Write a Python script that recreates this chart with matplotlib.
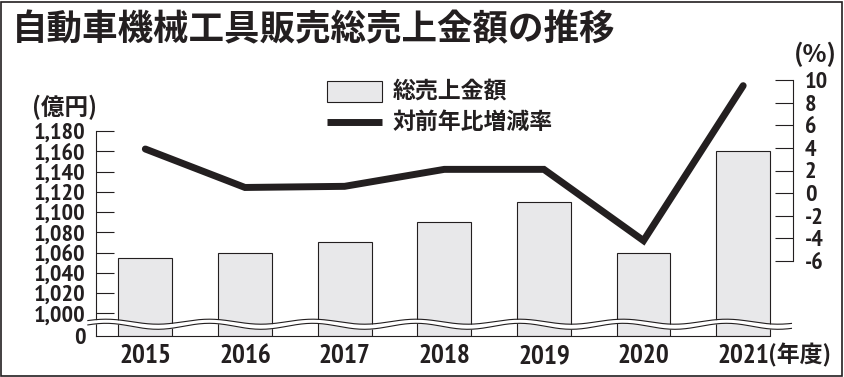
import numpy as np
import matplotlib
matplotlib.use('Agg')
import matplotlib.pyplot as plt
from matplotlib import font_manager as fm
from matplotlib.font_manager import FontProperties
from matplotlib.patches import Rectangle
from matplotlib.lines import Line2D
import matplotlib.transforms as mtrans

# ---- data ----
years = ['2015', '2016', '2017', '2018', '2019', '2020', '2021']
sales = [1055, 1060, 1070, 1090, 1110, 1060, 1160]          # 億円
growth = [3.9, 0.5, 0.6, 2.1, 2.1, -4.2, 9.5]               # %
left_ticks = [0, 1000, 1020, 1040, 1060, 1080, 1100, 1120, 1140, 1160, 1180]
left_labels = ['0', '1,000', '1,020', '1,040', '1,060', '1,080', '1,100',
               '1,120', '1,140', '1,160', '1,180']
right_ticks = [-6, -4, -2, 0, 2, 4, 6, 8, 10]
right_labels = ['-6', '-4', '-2', '0', '2', '4', '6', '8', '10']
title = '自動車機械工具販売総売上金額の推移'
legend_bar = '総売上金額'
legend_line = '対前年比増減率'

# ---- fonts ----
CJK = 'Noto Sans CJK JP'
plt.rcParams['font.family'] = [CJK, 'DejaVu Sans']
INK = '#231f20'
BARC = '#e8e8ea'


def _wt(f):
    w = f.weight
    if isinstance(w, str):
        w = {'bold': 700, 'heavy': 800, 'black': 900, 'semibold': 600,
             'demibold': 600, 'normal': 400, 'regular': 400}.get(w.lower(), 400)
    return w


def pick_num_font():
    cands = []
    for f in fm.fontManager.ttflist:
        n = f.name
        st = str(f.stretch)
        cond = ('Narrow' in n or 'Condensed' in n or
                st in ('condensed', 'semi-condensed', 'extra-condensed',
                       'ultra-condensed') or
                (isinstance(f.stretch, (int, float)) and f.stretch < 500))
        if not cond or 'Mono' in n or 'Serif' in n or 'CJK' in n:
            continue
        if 'italic' in str(f.style).lower() or 'oblique' in str(f.style).lower():
            continue
        score = abs(_wt(f) - 750)
        pref = 0 if 'Narrow' in n else 1
        cands.append((pref, score, f.fname))
    if cands:
        cands.sort()
        return FontProperties(fname=cands[0][2]), True
    return FontProperties(family='Liberation Sans', weight='bold'), False


NUMFP, NARROW = pick_num_font()

W, H = 845, 377
fig = plt.figure(figsize=(W / 100, H / 100), dpi=100)
renderer = fig.canvas.get_renderer()


def fit_size(s, target_w, max_size):
    fp = NUMFP.copy()
    fp.set_size(10)
    t = fig.text(0, 0, s, fontproperties=fp)
    w = t.get_window_extent(renderer).width
    t.remove()
    return min(max_size, 10 * target_w / w)


def fx(px):
    return px / W


def fy(py):
    return 1 - py / H


L, R = 96.5, 793
TOP_L, BOT = 131, 336
ax = fig.add_axes([fx(L), fy(BOT), (R - L) / W, (BOT - TOP_L) / H])

# broken axis scale: 0..1000 squeezed, 1000.. linear
BRK, OFF = 1000.0, 22.4


def fwd(v):
    v = np.asarray(v, float)
    return np.where(v >= BRK, v - BRK + OFF, v * OFF / BRK)


def inv(y):
    y = np.asarray(y, float)
    return np.where(y >= OFF, y + BRK - OFF, y * BRK / OFF)


ax.set_yscale('function', functions=(fwd, inv))
ax.set_ylim(0, 1180)
ax.set_xlim(-0.49, 6.5)
x = np.arange(len(years))
ax.bar(x, sales, width=0.54, color=BARC, edgecolor=INK, linewidth=0.8, zorder=2)

for s in ['top', 'right']:
    ax.spines[s].set_visible(False)
for s in ['left', 'bottom']:
    ax.spines[s].set_linewidth(0.8)
    ax.spines[s].set_color(INK)
ax.spines['bottom'].set_bounds(-0.49, 6.27)

ysz = fit_size('1,180', 76, 17.5)
xsz = fit_size('2015', 56, 19.5)
rsz = fit_size('10', 27, 17.5)

ax.set_yticks(left_ticks, left_labels)
ax.tick_params(axis='y', direction='in', length=13, width=0.8, color=INK, pad=8,
               labelcolor=INK)
ax.yaxis.get_major_ticks()[0].tick1line.set_visible(False)
ax.set_xticks(x, years)
ax.tick_params(axis='x', length=0, pad=6, labelcolor=INK)
for lab in ax.get_yticklabels():
    fp = NUMFP.copy(); fp.set_size(ysz)
    if not NARROW:
        fp.set_weight('bold')
    lab.set_fontproperties(fp)
for lab in ax.get_xticklabels():
    fp = NUMFP.copy(); fp.set_size(xsz)
    if not NARROW:
        fp.set_weight('bold')
    lab.set_fontproperties(fp)

# wavy break band
bt = mtrans.blended_transform_factory(ax.transData, ax.transAxes)
wx = np.linspace((88 - 145.5) / 99.7, (792 - 145.5) / 99.7, 400)
ph = np.cos(2 * np.pi * (wx - 1.68) / 1.038)
yu = 0.0698 + 0.0122 * ph
yl = 0.0473 + 0.0146 * ph
ax.fill_between(wx, yl, yu, color='white', transform=bt, zorder=3, clip_on=False, lw=0)
ax.plot(wx, yu, color=INK, lw=0.8, transform=bt, zorder=3.1, clip_on=False)
ax.plot(wx, yl, color=INK, lw=0.8, transform=bt, zorder=3.1, clip_on=False)

# right axis
TOP_R, BOT_R = 80, 261
ax2 = fig.add_axes([fx(L), fy(BOT_R), (R - L) / W, (BOT_R - TOP_R) / H])
ax2.set_facecolor('none')
ax2.set_xlim(-0.49, 6.5)
ax2.set_ylim(-6, 10)
for s in ['top', 'left', 'bottom']:
    ax2.spines[s].set_visible(False)
ax2.spines['right'].set_linewidth(0.8)
ax2.spines['right'].set_color(INK)
ax2.set_xticks([])
ax2.yaxis.tick_right()
ax2.set_yticks(right_ticks, right_labels)
ax2.tick_params(axis='y', direction='in', length=13, width=0.8, color=INK, pad=8.5,
                labelcolor=INK)
for lab in ax2.get_yticklabels():
    fp = NUMFP.copy(); fp.set_size(rsz)
    if not NARROW:
        fp.set_weight('bold')
    lab.set_fontproperties(fp)
ax2.plot(x, growth, color=INK, lw=5, solid_capstyle='round', solid_joinstyle='miter',
         clip_on=False, zorder=4)

# legend (manual)
fig.add_artist(Rectangle((fx(327), fy(102)), (382 - 327) / W, (102 - 81) / H,
                         fc=BARC, ec=INK, lw=0.8, transform=fig.transFigure))
fig.add_artist(Line2D([fx(327), fx(382)], [fy(122), fy(122)], lw=5, color=INK,
                      solid_capstyle='butt', transform=fig.transFigure))
fig.text(fx(393), fy(91), legend_bar, family=[CJK, 'DejaVu Sans'], weight='bold',
         size=16.5, va='center', ha='left', color=INK)
fig.text(fx(393), fy(122), legend_line, family=[CJK, 'DejaVu Sans'], weight='bold',
         size=16.5, va='center', ha='left', color=INK)

# titles and units
fig.text(fx(12), fy(30), title, family=[CJK, 'DejaVu Sans'], weight='bold',
         size=25.6, va='center', ha='left', color=INK)
fig.text(fx(65), fy(107), '(億円)', family=[CJK, 'DejaVu Sans'], weight='bold',
         size=17, va='center', ha='center', color=INK)
fig.text(fx(815), fy(54), '(%)', family=[CJK, 'DejaVu Sans'], weight='bold',
         size=18, va='center', ha='center', color=INK)
fig.text(fx(768), fy(355), '(年度)', family=[CJK, 'DejaVu Sans'], weight='bold',
         size=16.5, va='center', ha='left', color=INK)

# outer frame
fig.add_artist(Rectangle((fx(1.5), fy(375.5)), (842 - 1.5) / W, (375.5 - 1.5) / H,
                         fill=False, ec=INK, lw=1.2, transform=fig.transFigure))

fig.savefig('out.png', dpi=100)
